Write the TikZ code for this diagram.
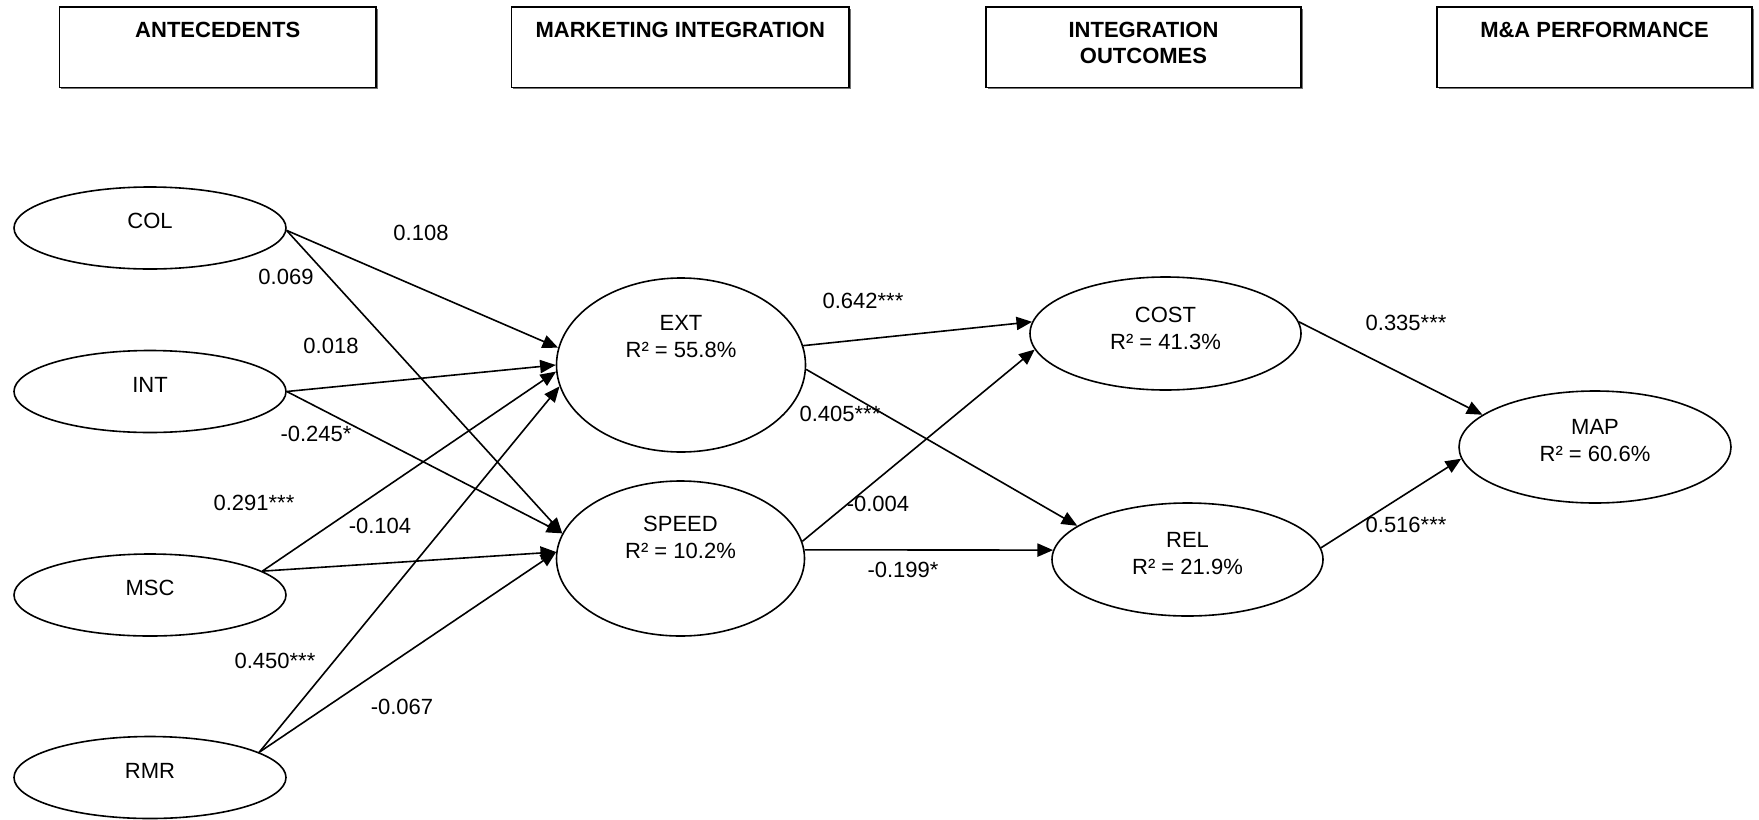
\documentclass[tikz,border=0pt]{standalone}
\usepackage{fontspec}
\setmainfont{Liberation Sans}
\usetikzlibrary{shapes.geometric,arrows.meta,shadows}

\tikzset{
  latent/.style={draw, ellipse, line width=0.8pt, inner sep=0pt},
  vartext/.style={inner sep=0pt, align=center, font=\fontsize{11pt}{13.5pt}\selectfont},
  coef/.style={inner sep=0pt, font=\fontsize{11pt}{13.5pt}\selectfont},
  hbox/.style={draw, rectangle, line width=0.9pt, fill=white, inner sep=0pt,
    minimum height=40.25pt,
    drop shadow={shadow xshift=0.8pt, shadow yshift=-0.8pt, fill=black!55, opacity=1}},
  htext/.style={inner sep=0pt, align=center, font=\fontsize{11pt}{13pt}\selectfont\bfseries},
  arr/.style={line width=0.8pt, -{Triangle[length=7.8pt,width=6.6pt]}}
}

\begin{document}
\begin{tikzpicture}[x=0.5pt,y=-0.5pt]
\useasboundingbox (0,0) rectangle (1759,819);

% column headers
\node[hbox, minimum width=158.25pt] (h1) at (217.75,47.25) {};
\node[hbox, minimum width=168.75pt] (h2) at (680.25,47.25) {};
\node[hbox, minimum width=157.5pt]  (h3) at (1143.5,47.25) {};
\node[hbox, minimum width=157.5pt]  (h4) at (1594.5,47.25) {};
\node[htext] (h1t) at (217.75,30) {ANTECEDENTS};
\node[htext] (h2t) at (680.25,30) {MARKETING INTEGRATION};
\node[htext] (h3t) at (1143.5,43) {INTEGRATION\\OUTCOMES};
\node[htext] (h4t) at (1594.5,30) {M\&A PERFORMANCE};

% antecedents
\node[latent, minimum width=136pt, minimum height=41pt] (col) at (150,228) {};
\node[latent, minimum width=136pt, minimum height=41pt] (int) at (150,391.5) {};
\node[latent, minimum width=136pt, minimum height=41pt] (msc) at (150,595) {};
\node[latent, minimum width=136pt, minimum height=41pt] (rmr) at (150,777.5) {};
\node[vartext] (colt) at (150,221) {COL};
\node[vartext] (intt) at (150,384.5) {INT};
\node[vartext] (msct) at (150,588) {MSC};
\node[vartext] (rmrt) at (150,770.5) {RMR};

% marketing integration
\node[latent, minimum width=124.5pt, minimum height=87pt] (ext) at (681,365) {};
\node[latent, minimum width=124pt, minimum height=77.5pt] (speed) at (680.5,558.5) {};
\node[vartext] (extt) at (681,336.5) {EXT\\R² = 55.8\%};
\node[vartext] (speedt) at (680.5,537.5) {SPEED\\R² = 10.2\%};

% integration outcomes
\node[latent, minimum width=135.5pt, minimum height=56.5pt] (cost) at (1165.5,333.5) {};
\node[latent, minimum width=135.5pt, minimum height=56.5pt] (rel) at (1187.5,559.5) {};
\node[vartext] (costt) at (1165.5,328) {COST\\R² = 41.3\%};
\node[vartext] (relt) at (1187.5,553.5) {REL\\R² = 21.9\%};

% performance
\node[latent, minimum width=136pt, minimum height=56pt] (map) at (1595,447) {};
\node[vartext] (mapt) at (1595,441) {MAP\\R² = 60.6\%};

% paths
\draw[arr] (col.359) -- (ext.172);
\draw[arr] (col.359) -- (speed.168);
\draw[arr] (int.0) -- (ext.180);
\draw[arr] (int.0) -- (speed.168);
\draw[arr] (msc.12) -- (ext.183);
\draw[arr] (msc.12) -- (speed.177);
\draw[arr] (rmr.13) -- (ext.190);
\draw[arr] (rmr.13) -- (speed.177);
\draw[arr] (ext.9) -- (cost.175);
\draw[arr] (ext.358) -- (rel.163);
\draw[arr] (speed.8) -- (cost.187);
\draw[arr] (speed.4) -- (rel.176);
\draw[arr] (cost.5) -- (map.164);
\draw[arr] (rel.5) -- (map.185);

% path coefficients
\node[coef] (c1) at (421,233) {0.108};
\node[coef] (c2) at (286,277) {0.069};
\node[coef] (c3) at (331,346) {0.018};
\node[coef] (c4) at (316,434) {-0.245*};
\node[coef] (c5) at (254,503) {0.291***};
\node[coef] (c6) at (380,526) {-0.104};
\node[coef] (c7) at (275,661) {0.450***};
\node[coef] (c8) at (402,707) {-0.067};
\node[coef] (c9) at (863,301) {0.642***};
\node[coef] (c10) at (840,414) {0.405***};
\node[coef] (c11) at (878,504) {-0.004};
\node[coef] (c12) at (903,570) {-0.199*};
\node[coef] (c13) at (1406,323) {0.335***};
\node[coef] (c14) at (1406,525) {0.516***};
\end{tikzpicture}
\end{document}
